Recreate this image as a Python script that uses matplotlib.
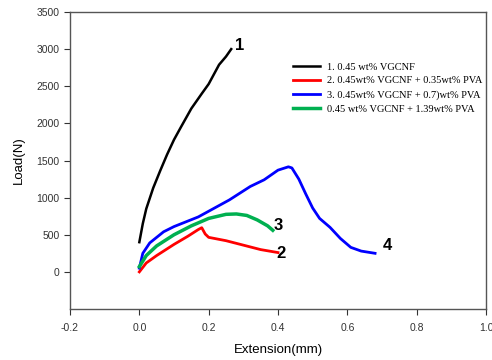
import numpy as np
import matplotlib.pyplot as plt

# values
x1 = [0, 0.01, 0.02, 0.04, 0.06, 0.08, 0.10, 0.12, 0.15, 0.18, 0.20, 0.23, 0.25, 0.265]
y1 = [400, 650, 850, 1130, 1360, 1580, 1780, 1950, 2200, 2400, 2530, 2790, 2900, 3000]

x2 = [0, 0.02, 0.05, 0.10, 0.14, 0.17, 0.18, 0.19, 0.20, 0.25, 0.30, 0.35, 0.40]
y2 = [0, 120, 220, 370, 480, 570, 595, 510, 465, 420, 360, 300, 260]

x3 = [0, 0.01, 0.03, 0.07, 0.10, 0.17, 0.26, 0.32, 0.36, 0.40, 0.43, 0.44, 0.46, 0.48,
      0.50, 0.52, 0.55, 0.58, 0.61, 0.64, 0.68]
y3 = [50, 250, 390, 540, 610, 740, 970, 1150, 1240, 1370, 1415, 1400, 1250, 1050,
      860, 720, 600, 450, 330, 280, 250]

x4 = [0, 0.02, 0.05, 0.10, 0.15, 0.20, 0.25, 0.28, 0.31, 0.34, 0.37, 0.385]
y4 = [70, 220, 350, 500, 620, 720, 775, 780, 760, 700, 620, 560]

labels = ['1. 0.45 wt% VGCNF',
          '2. 0.45wt% VGCNF + 0.35wt% PVA',
          '3. 0.45wt% VGCNF + 0.7)wt% PVA',
          '0.45 wt% VGCNF + 1.39wt% PVA']
curve_tags = ['1', '2', '3', '4']
tag_pos = [(0.29, 3055), (0.41, 254), (0.40, 631), (0.716, 361)]

plt.rcParams['font.family'] = ['Liberation Sans', 'DejaVu Sans']

fig = plt.figure(figsize=(4.92, 3.6), dpi=100)
ax = fig.add_axes([70 / 492, 51 / 360, 416 / 492, 297 / 360])

ax.plot(x1, y1, color='black', lw=1.8, label=labels[0])
ax.plot(x2, y2, color='#ff0000', lw=2, label=labels[1])
ax.plot(x3, y3, color='#0000ff', lw=2, label=labels[2])
ax.plot(x4, y4, color='#00b050', lw=2.5, label=labels[3])

for tag, (tx, ty) in zip(curve_tags, tag_pos):
    ax.text(tx, ty, tag, fontsize=12, fontweight='bold', ha='center', va='center')

ax.set_xlim(-0.2, 1.0)
ax.set_ylim(-500, 3500)
ax.set_xticks(np.arange(-0.2, 1.01, 0.2))
ax.set_xticklabels(['-0.2', '0.0', '0.2', '0.4', '0.6', '0.8', '1.0'])
ax.set_yticks(np.arange(0, 3501, 500))
ax.tick_params(direction='out', length=4, width=0.8, labelsize=7.5, colors='#333333')
ax.tick_params(axis='x', pad=6)
for s in ax.spines.values():
    s.set_color('#555555')
    s.set_linewidth(1)

ax.set_xlabel('Extension(mm)', fontsize=9.5, labelpad=8)
ax.set_ylabel('Load(N)', fontsize=9.5, labelpad=8)

ax.legend(loc='upper left', bbox_to_anchor=(288 / 492, 1 - 57 / 360),
          bbox_transform=fig.transFigure, frameon=False, borderpad=0,
          prop={'family': 'Liberation Serif', 'size': 7.5},
          handlelength=2.6, handletextpad=0.6, labelspacing=0.45)

fig.savefig('out.png', dpi=100)
